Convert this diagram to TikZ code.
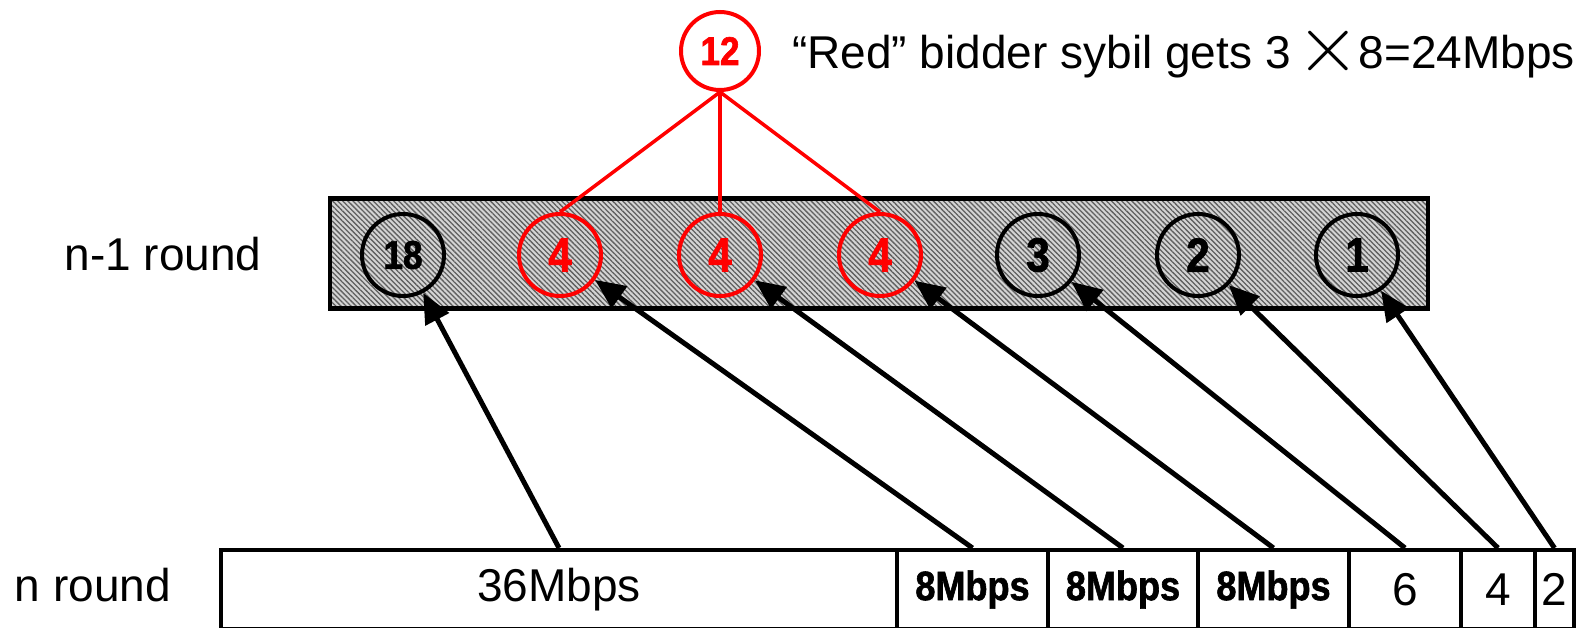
\documentclass[tikz,border=0pt]{standalone}
\usepackage{fontspec}
\usepackage{graphicx}
\setmainfont{Liberation Sans}
\newfontfamily\heavyfont[FakeStretch=0.88,FakeBold=1.5]{Liberation Sans Bold}
\usetikzlibrary{arrows.meta,patterns.meta}
\definecolor{hatchbg}{RGB}{212,212,212}
\definecolor{hatchln}{RGB}{95,95,95}
\begin{document}
\begin{tikzpicture}[x=1pt,y=-1pt,
  lbl/.style={font=\fontsize{46}{50}\selectfont, inner sep=0pt},
  bid/.style={circle, draw=black, line width=4pt, minimum size=82pt, inner sep=0pt, font=\fontsize{48}{50}\heavyfont},
  twodigit/.style={font=\fontsize{40}{42}\heavyfont},
  redbid/.style={bid, draw=red, text=red},
  seg/.style={draw=black, line width=4pt, inner sep=0pt, minimum height=79pt, anchor=north west},
  segbold/.style={seg, font=\fontsize{41}{44}\heavyfont},
  segreg/.style={seg, font=\fontsize{46}{50}\selectfont},
  arr/.style={line width=5pt, -{Triangle[length=30pt,width=26pt]}},
  redline/.style={draw=red, line width=3.5pt}
]
\useasboundingbox (0,0) rectangle (1588,627);
% hatched band
\node[draw=black, line width=4.5pt, minimum width=1098pt, minimum height=110pt, inner sep=0pt,
      fill=hatchbg, postaction={pattern={Lines[angle=-45,distance=3.6pt,line width=1.3pt]}, pattern color=hatchln}]
      (band) at (879,253.5) {};
\node[draw=black, line width=4.5pt, minimum width=1098pt, minimum height=110pt, inner sep=0pt] (bandframe) at (879,253.5) {};
% circles of round n-1
\node[bid, twodigit] (c1) at (403,255) {18};
\node[redbid] (c2) at (560,255) {4};
\node[redbid] (c3) at (720,255) {4};
\node[redbid] (c4) at (880,255) {4};
\node[bid] (c5) at (1038,255) {3};
\node[bid] (c6) at (1198,255) {2};
\node[bid] (c7) at (1357,255) {1};
% sybil aggregate
\node[redbid, twodigit, minimum size=78pt] (c12) at (720,51) {12};
\node[lbl, anchor=west] (note) at (792,51) {“Red” bidder sybil gets 3\hspace{6pt}\raisebox{-3pt}{\scalebox{3.3}{$\times$}}\hspace{-2pt}8=24Mbps};
\draw[redline] (c12.south) -- (c2.north);
\draw[redline] (c12.south) -- (c3.north);
\draw[redline] (c12.south) -- (c4.north);
% row labels
\node[lbl] (lab1) at (163,254) {n-1 round};
\node[lbl] (lab2) at (93,585) {n round};
% round n segments
\node[segreg, minimum width=676pt] (s1) at (219,548) {36Mbps};
\node[segbold, minimum width=151pt] (s2) at (895,548) {8Mbps};
\node[segbold, minimum width=150pt] (s3) at (1046,548) {8Mbps};
\node[segbold, minimum width=151pt] (s4) at (1196,548) {8Mbps};
\node[segreg, minimum width=112pt] (s5) at (1347,548) {6};
\node[segreg, minimum width=74pt] (s6) at (1459,548) {4};
\node[segreg, minimum width=39pt] (s7) at (1533,548) {2};
% arrows
\draw[arr] (s1.north) -- (c1);
\draw[arr] (s2.north) -- (c2);
\draw[arr] (s3.north) -- (c3);
\draw[arr] (s4.north) -- (c4);
\draw[arr] (s5.north) -- (c5);
\draw[arr] (s6.north) -- (c6);
\draw[arr] (s7.north) -- (c7);
\end{tikzpicture}
\end{document}
